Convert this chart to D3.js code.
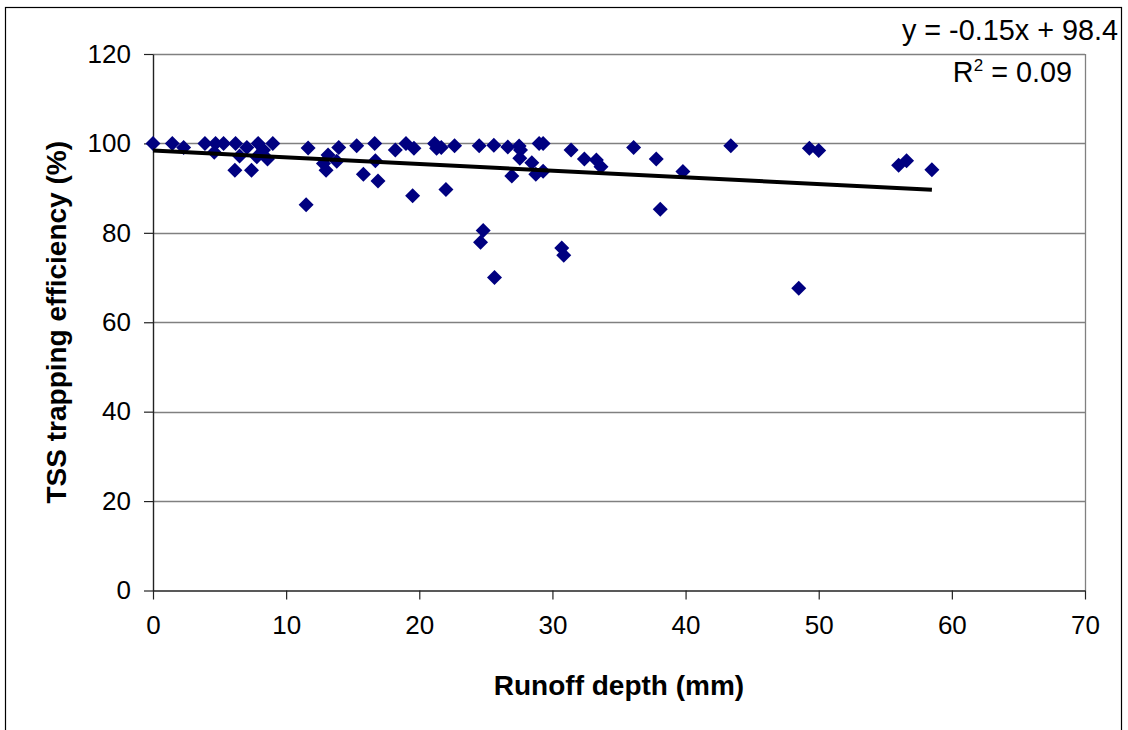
<!DOCTYPE html>
<html>
<head>
<meta charset="utf-8">
<script src="https://cdn.jsdelivr.net/npm/d3@7"></script>
<style>
  html, body { margin: 0; padding: 0; background: #fff; }
  svg { display: block; font-family: "Liberation Sans", Arial, sans-serif; }
</style>
</head>
<body>
<svg id="chart" width="1128" height="730"></svg>
<script>
// Runoff depth (mm) for each event
const runoffDepth = [
  0, 1.45, 2.3, 3.9, 4.6, 4.7, 5.3, 6.2, 6.5, 7.05,
  6.15, 7.4, 7.9, 7.8, 8.3, 8.6, 9.0, 11.65, 11.5, 13.95,
  13.15, 12.8, 13.0, 13.8, 15.3, 15.8, 16.65, 16.7, 16.9, 18.2,
  19.0, 19.6, 19.5, 21.15, 21.3, 21.65, 22.0, 22.65, 24.5, 24.8,
  24.6, 25.6, 25.65, 26.65, 26.95, 27.5, 27.6, 27.55, 28.45, 28.75,
  29.0, 29.3, 29.3, 30.7, 30.85, 31.4, 32.4, 33.3, 33.65, 36.1,
  37.8, 38.1, 39.8, 43.4, 48.5, 49.3, 50.0, 56.0, 56.6, 58.5
];
// TSS trapping efficiency (%) for the same events
const trappingEfficiency = [
  100, 100, 99.1, 100, 98.0, 100, 100, 100, 97.2, 99.1,
  94.0, 94.0, 100, 97.0, 98.5, 96.5, 100, 99.0, 86.3, 99.1,
  97.4, 95.5, 94.0, 96.0, 99.5, 93.1, 100, 96.1, 91.6, 98.5,
  100, 98.9, 88.3, 100, 98.9, 99.1, 89.7, 99.5, 99.5, 80.5,
  77.9, 99.6, 70.0, 99.2, 92.7, 99.4, 98.5, 96.7, 95.7, 93.1,
  100, 100, 93.8, 76.6, 75.0, 98.5, 96.5, 96.3, 94.8, 99.1,
  96.5, 85.3, 93.7, 99.5, 67.6, 98.9, 98.4, 95.1, 96.1, 94.1
];
const xTicks = [0, 10, 20, 30, 40, 50, 60, 70];
const yTicks = [0, 20, 40, 60, 80, 100, 120];
// Linear trend: y = slope * x + intercept
const trendSlope = -0.15;
const trendIntercept = 98.4;
const rSquared = "0.09";

const points = runoffDepth.map((d, i) => ({ x: d, y: trappingEfficiency[i] }));

const svg = d3.select("#chart");
const plot = { left: 153, right: 1085, top: 54, bottom: 590.5 };

const x = d3.scaleLinear().domain([0, 70]).range([plot.left, plot.right]);
const y = d3.scaleLinear().domain([0, 120]).range([plot.bottom, plot.top]);

// Outer chart frame
svg.append("rect")
  .attr("x", 5.5).attr("y", 7.5)
  .attr("width", 1116).attr("height", 760)
  .attr("fill", "none").attr("stroke", "#000").attr("stroke-width", 1.2);

// Horizontal gridlines
svg.append("g")
  .selectAll("line")
  .data(yTicks.filter(t => t > 0))
  .join("line")
  .attr("x1", plot.left).attr("x2", plot.right)
  .attr("y1", d => Math.round(y(d)) + 0.5).attr("y2", d => Math.round(y(d)) + 0.5)
  .attr("stroke", "#808080").attr("stroke-width", 1.3);

// Right edge of plot area
svg.append("line")
  .attr("x1", plot.right + 0.5).attr("x2", plot.right + 0.5)
  .attr("y1", plot.top).attr("y2", plot.bottom)
  .attr("stroke", "#808080").attr("stroke-width", 1.3);

// Axes
const yAxis = svg.append("g")
  .attr("transform", `translate(${plot.left},0)`)
  .call(d3.axisLeft(y).tickValues(yTicks).tickSize(9).tickSizeOuter(0).tickPadding(13));
const xAxis = svg.append("g")
  .attr("transform", `translate(0,${plot.bottom})`)
  .call(d3.axisBottom(x).tickValues(xTicks).tickSize(9).tickSizeOuter(0).tickPadding(16));

[yAxis, xAxis].forEach(g => {
  g.select(".domain").attr("stroke", "#222").attr("stroke-width", 1.4);
  g.selectAll(".tick line").attr("stroke", "#222").attr("stroke-width", 1.2);
  g.selectAll(".tick text")
    .attr("fill", "#000")
    .style("font-size", "26px")
    .style("font-family", "'Liberation Sans', Arial, sans-serif");
});

// Data points as diamonds
const diamond = "M0,-7.5L7.5,0L0,7.5L-7.5,0Z";
svg.append("g")
  .selectAll("path")
  .data(points)
  .join("path")
  .attr("d", diamond)
  .attr("transform", d => `translate(${x(d.x)},${y(d.y)})`)
  .attr("fill", "#000080");

// Trend line across the observed range
const xMax = d3.max(runoffDepth);
const trend = [0, xMax].map(v => ({ x: v, y: trendSlope * v + trendIntercept }));
svg.append("path")
  .datum(trend)
  .attr("d", d3.line().x(d => x(d.x)).y(d => y(d.y)))
  .attr("fill", "none")
  .attr("stroke", "#000")
  .attr("stroke-width", 4);

// Trend equation and R²
svg.append("text")
  .attr("x", 1118).attr("y", 40)
  .attr("text-anchor", "end")
  .style("font-size", "28.8px")
  .text(`y = ${trendSlope}x + ${trendIntercept}`);

const r2 = svg.append("text")
  .attr("x", 1072).attr("y", 82)
  .attr("text-anchor", "end")
  .style("font-size", "28.8px");
r2.append("tspan").text("R");
r2.append("tspan").attr("dy", -11).style("font-size", "17px").text("2");
r2.append("tspan").attr("dy", 11).text(` = ${rSquared}`);

// Axis titles
svg.append("text")
  .attr("x", (plot.left + plot.right) / 2).attr("y", 695)
  .attr("text-anchor", "middle")
  .style("font-size", "28px").style("font-weight", "bold")
  .text("Runoff depth (mm)");

svg.append("text")
  .attr("transform", `translate(66,${(plot.top + plot.bottom) / 2}) rotate(-90)`)
  .attr("text-anchor", "middle")
  .style("font-size", "28px").style("font-weight", "bold")
  .text("TSS trapping efficiency (%)");
</script>
</body>
</html>
